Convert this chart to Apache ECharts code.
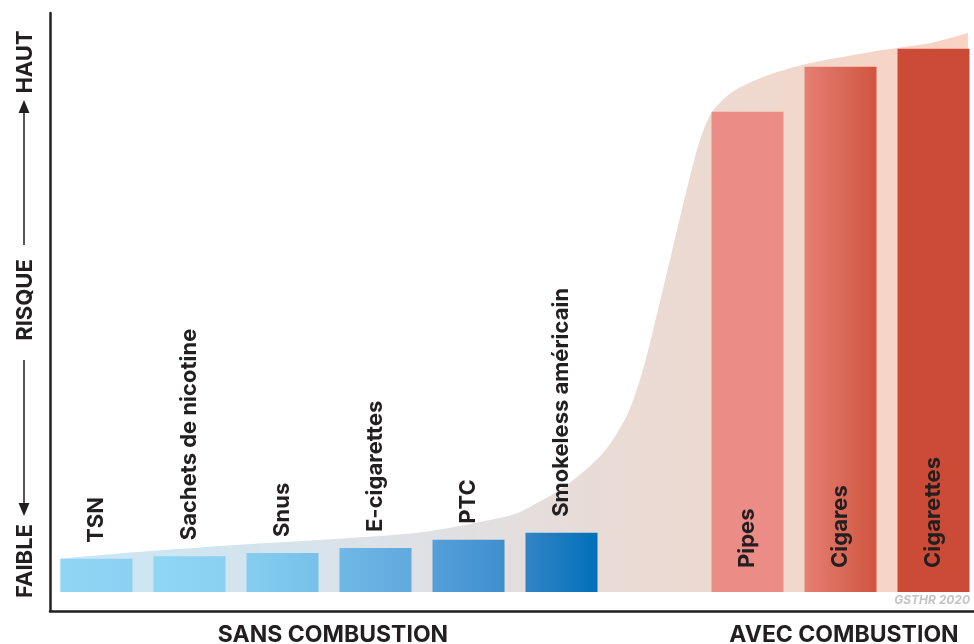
<!DOCTYPE html>
<html>
<head>
<meta charset="utf-8">
<style>
html,body{margin:0;padding:0;background:#fff;}
#chart{width:974px;height:644px;}
</style>
<script src="https://cdn.jsdelivr.net/npm/echarts@6/dist/echarts.min.js"></script>
</head>
<body>
<div id="chart"></div>
<script>
// ---- data ----
var categories = ['TSN', 'Sachets de nicotine', 'Snus', 'E-cigarettes', 'PTC', 'Smokeless américain', '', 'Pipes', 'Cigares', 'Cigarettes'];
var risk = [6.1, 6.6, 7.2, 8.1, 9.6, 10.9, null, 88.4, 96.7, 100];
var combustion = [false, false, false, false, false, false, null, true, true, true];
// background risk curve (x in category-slot units, y in risk units)
var curveX = [0.11, 0.97, 2.04, 3.11, 4.08, 4.83, 5.05, 5.26, 5.48, 5.69, 5.91, 6.07, 6.23, 6.39, 6.55, 6.68, 6.82, 6.98, 7.12, 7.34, 7.70, 8.13, 8.78, 9.13, 9.48, 9.87];
var curveY = [6.1, 7.4, 8.7, 9.8, 11.2, 13.6, 14.7, 16.6, 18.8, 21.5, 24.9, 28.5, 33.5, 41.8, 52.9, 62.1, 72.2, 82.7, 88.4, 92.1, 95.0, 97.2, 99.3, 100.2, 101.1, 102.9];
var groupLabels = ['SANS COMBUSTION', 'AVEC COMBUSTION'];
var axisWords = ['FAIBLE', 'RISQUE', 'HAUT'];
var sourceNote = 'GSTHR 2020';

// ---- styles ----
var barColorStart = ['#91d5f4', '#8fd5f4', '#85cdf0', '#70b8e6', '#559fda', '#3384c6', null, '#eb8c86', '#e67f74', '#cc4b37'];
var barColorEnd   = ['#8cd1f2', '#8ad0f1', '#76c0ea', '#61a9de', '#3f8ece', '#0070ba', null, '#eb8c86', '#d0553f', '#cc4b37'];
var FONT = 'Inter, "Noto Sans", sans-serif';
var INK = '#231f20';

function grad(a, b) {
  return new echarts.graphic.LinearGradient(0, 0, 1, 0, [{offset: 0, color: a}, {offset: 1, color: b}]);
}

var barData = risk.map(function (v, i) {
  if (v === null) return '-';
  var inside = combustion[i];
  return {
    value: v,
    itemStyle: {color: grad(barColorStart[i], barColorEnd[i])},
    label: inside ? {position: 'insideBottom', distance: 24} : {position: 'top', distance: 16}
  };
});

var curveData = curveX.map(function (x, i) { return [x, curveY[i]]; });

var chart = echarts.init(document.getElementById('chart'), null, {renderer: 'canvas'});
chart.setOption({
  animation: false,
  backgroundColor: '#ffffff',
  grid: {left: 50, top: 13, bottom: 33, width: 930, containLabel: false, outerBoundsMode: 'none'},
  xAxis: [{
    type: 'category',
    data: categories,
    boundaryGap: true,
    axisLine: {onZero: false, lineStyle: {color: INK, width: 2.5}},
    axisTick: {show: false},
    axisLabel: {show: false},
    splitLine: {show: false}
  }, {
    type: 'value',
    min: 0, max: 10,
    show: false
  }],
  yAxis: {
    type: 'value',
    min: -3.5, max: 106.6,
    axisLine: {show: true, onZero: false, lineStyle: {color: INK, width: 2.5}},
    axisTick: {show: false},
    axisLabel: {show: false},
    splitLine: {show: false}
  },
  series: [{
    type: 'line',
    xAxisIndex: 1,
    data: curveData,
    smooth: 0.3,
    symbol: 'none',
    lineStyle: {width: 0},
    areaStyle: {
      opacity: 1,
      color: new echarts.graphic.LinearGradient(0, 0, 1, 0, [
        {offset: 0, color: '#c9e7f5'},
        {offset: 0.2, color: '#d3e4ee'},
        {offset: 0.35, color: '#dce2e8'},
        {offset: 0.48, color: '#e2dfdf'},
        {offset: 0.6, color: '#e9dbd6'},
        {offset: 0.72, color: '#eddad1'},
        {offset: 0.84, color: '#f2d7cb'},
        {offset: 1, color: '#f9d2c2'}
      ])
    },
    z: 1,
    silent: true
  }, {
    type: 'bar',
    data: barData,
    barWidth: 72,
    z: 2,
    label: {
      show: true,
      formatter: '{b}',
      rotate: 90,
      align: 'left',
      verticalAlign: 'middle',
      color: INK,
      fontFamily: FONT,
      fontWeight: 'bold',
      fontSize: 22
    }
  }],
  graphic: [
    // y-axis words and arrows
    {type: 'text', x: 25, y: 561, rotation: Math.PI / 2,
      style: {text: axisWords[0], font: 'bold 22px ' + FONT, fill: INK, align: 'center', verticalAlign: 'middle'}},
    {type: 'text', x: 25, y: 300, rotation: Math.PI / 2,
      style: {text: axisWords[1], font: 'bold 22px ' + FONT, fill: INK, align: 'center', verticalAlign: 'middle'}},
    {type: 'text', x: 25, y: 62, rotation: Math.PI / 2,
      style: {text: axisWords[2], font: 'bold 22px ' + FONT, fill: INK, align: 'center', verticalAlign: 'middle'}},
    {type: 'line', shape: {x1: 24, y1: 360, x2: 24, y2: 506}, style: {stroke: INK, lineWidth: 1.5}},
    {type: 'polygon', shape: {points: [[18.5, 503], [29.5, 503], [24, 516]]}, style: {fill: INK}},
    {type: 'line', shape: {x1: 24, y1: 245, x2: 24, y2: 110}, style: {stroke: INK, lineWidth: 1.5}},
    {type: 'polygon', shape: {points: [[18.5, 113], [29.5, 113], [24, 100]]}, style: {fill: INK}},
    // group labels
    {type: 'text', x: 333, y: 635,
      style: {text: groupLabels[0], font: 'bold 23px ' + FONT, fill: INK, align: 'center', verticalAlign: 'middle'}},
    {type: 'text', x: 844, y: 635,
      style: {text: groupLabels[1], font: 'bold 23px ' + FONT, fill: INK, align: 'center', verticalAlign: 'middle'}},
    // source
    {type: 'text', x: 970, y: 600,
      style: {text: sourceNote, font: 'italic bold 12px ' + FONT, fill: '#c4c4c4', align: 'right', verticalAlign: 'middle'}}
  ]
});
</script>
</body>
</html>
